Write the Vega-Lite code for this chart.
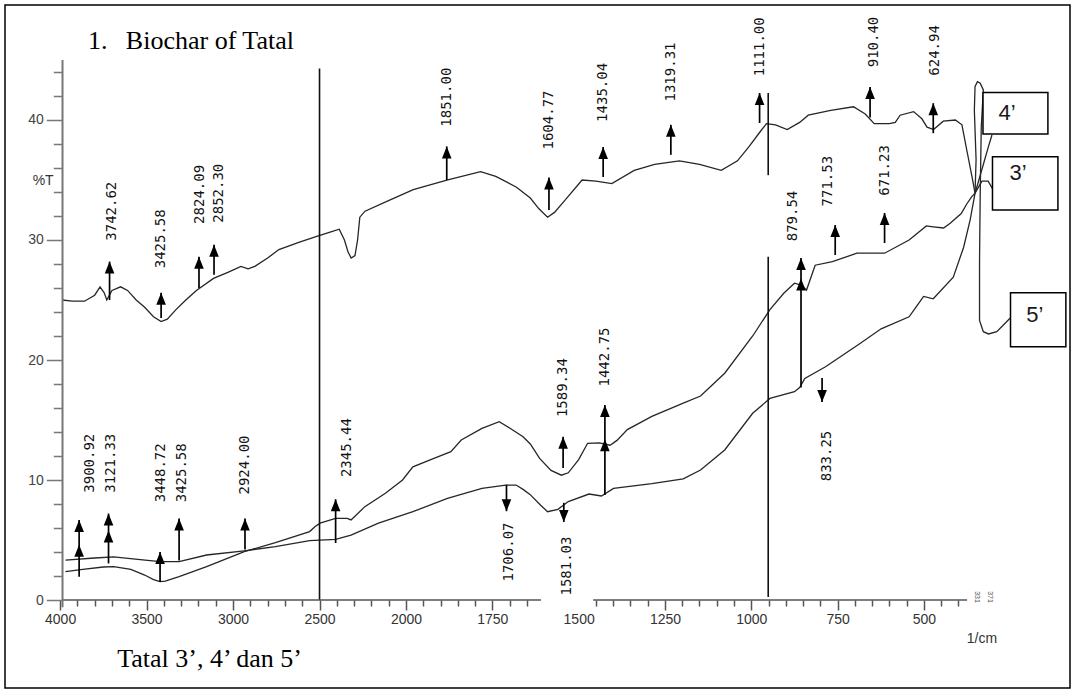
{
  "$schema": "https://vega.github.io/schema/vega-lite/v6.json",
  "width": 1065,
  "height": 683,
  "autosize": "none",
  "padding": {"left": 5, "top": 5, "right": 5, "bottom": 5},
  "background": "white",
  "config": {"view": {"stroke": "#000", "strokeWidth": 1.5}},
  "resolve": {"axis": {"x": "independent", "y": "independent"}},
  "datasets": {
    "curves": [
      {"s":"4","i":1,"w":3988,"t":25.0},{"s":"4","i":2,"w":3930,"t":24.9},{"s":"4","i":3,"w":3859,"t":24.9},{"s":"4","i":4,"w":3800,"t":25.4},{"s":"4","i":5,"w":3769,"t":26.1},{"s":"4","i":6,"w":3745,"t":25.6},{"s":"4","i":7,"w":3730,"t":25.0},{"s":"4","i":8,"w":3700,"t":25.8},{"s":"4","i":9,"w":3650,"t":26.1},{"s":"4","i":10,"w":3610,"t":25.8},{"s":"4","i":11,"w":3560,"t":25.0},{"s":"4","i":12,"w":3511,"t":24.4},{"s":"4","i":13,"w":3460,"t":23.6},{"s":"4","i":14,"w":3416,"t":23.2},{"s":"4","i":15,"w":3380,"t":23.4},{"s":"4","i":16,"w":3330,"t":24.2},{"s":"4","i":17,"w":3273,"t":25.0},{"s":"4","i":18,"w":3212,"t":25.8},{"s":"4","i":19,"w":3113,"t":26.8},{"s":"4","i":20,"w":3030,"t":27.3},{"s":"4","i":21,"w":2954,"t":27.8},{"s":"4","i":22,"w":2913,"t":27.6},{"s":"4","i":23,"w":2874,"t":27.8},{"s":"4","i":24,"w":2800,"t":28.5},{"s":"4","i":25,"w":2735,"t":29.2},{"s":"4","i":26,"w":2620,"t":29.8},{"s":"4","i":27,"w":2516,"t":30.3},{"s":"4","i":28,"w":2430,"t":30.7},{"s":"4","i":29,"w":2386,"t":30.9},{"s":"4","i":30,"w":2356,"t":30.0},{"s":"4","i":31,"w":2335,"t":29.0},{"s":"4","i":32,"w":2317,"t":28.5},{"s":"4","i":33,"w":2295,"t":28.7},{"s":"4","i":34,"w":2280,"t":30.0},{"s":"4","i":35,"w":2267,"t":31.9},{"s":"4","i":36,"w":2237,"t":32.4},{"s":"4","i":37,"w":2098,"t":33.3},{"s":"4","i":38,"w":1979,"t":34.2},{"s":"4","i":39,"w":1879,"t":35.0},{"s":"4","i":40,"w":1784,"t":35.7},{"s":"4","i":41,"w":1740,"t":35.3},{"s":"4","i":42,"w":1680,"t":34.4},{"s":"4","i":43,"w":1640,"t":33.5},{"s":"4","i":44,"w":1615,"t":32.6},{"s":"4","i":45,"w":1590,"t":31.9},{"s":"4","i":46,"w":1570,"t":32.3},{"s":"4","i":47,"w":1540,"t":33.3},{"s":"4","i":48,"w":1490,"t":35.0},{"s":"4","i":49,"w":1450,"t":34.9},{"s":"4","i":50,"w":1404,"t":34.7},{"s":"4","i":51,"w":1339,"t":35.8},{"s":"4","i":52,"w":1280,"t":36.3},{"s":"4","i":53,"w":1208,"t":36.6},{"s":"4","i":54,"w":1150,"t":36.3},{"s":"4","i":55,"w":1087,"t":35.8},{"s":"4","i":56,"w":1040,"t":36.6},{"s":"4","i":57,"w":1006,"t":37.8},{"s":"4","i":58,"w":975,"t":39.0},{"s":"4","i":59,"w":956,"t":39.7},{"s":"4","i":60,"w":930,"t":39.6},{"s":"4","i":61,"w":896,"t":39.2},{"s":"4","i":62,"w":860,"t":39.8},{"s":"4","i":63,"w":835,"t":40.4},{"s":"4","i":64,"w":770,"t":40.8},{"s":"4","i":65,"w":704,"t":41.1},{"s":"4","i":66,"w":670,"t":40.5},{"s":"4","i":67,"w":644,"t":39.7},{"s":"4","i":68,"w":600,"t":39.7},{"s":"4","i":69,"w":583,"t":39.8},{"s":"4","i":70,"w":569,"t":40.4},{"s":"4","i":71,"w":530,"t":40.7},{"s":"4","i":72,"w":506,"t":40.1},{"s":"4","i":73,"w":491,"t":39.4},{"s":"4","i":74,"w":472,"t":39.2},{"s":"4","i":75,"w":444,"t":39.9},{"s":"4","i":76,"w":409,"t":40.0},{"s":"4","i":77,"w":390,"t":39.6},{"s":"4","i":78,"w":376,"t":37.5},{"s":"4","i":79,"w":361,"t":35.3},{"s":"4","i":80,"w":352,"t":33.9},{"s":"4","i":81,"w":347,"t":34.4},{"s":"4","i":82,"w":327,"t":36.4},{"s":"4","i":83,"w":313,"t":37.8},{"s":"4","i":84,"w":303,"t":38.75},
      {"s":"3","i":1,"w":3969,"t":2.36},{"s":"3","i":2,"w":3869,"t":2.56},{"s":"3","i":3,"w":3750,"t":2.75},{"s":"3","i":4,"w":3690,"t":2.78},{"s":"3","i":5,"w":3591,"t":2.56},{"s":"3","i":6,"w":3511,"t":2.08},{"s":"3","i":7,"w":3460,"t":1.7},{"s":"3","i":8,"w":3422,"t":1.53},{"s":"3","i":9,"w":3392,"t":1.58},{"s":"3","i":10,"w":3312,"t":1.94},{"s":"3","i":11,"w":3153,"t":2.78},{"s":"3","i":12,"w":2935,"t":4.03},{"s":"3","i":13,"w":2755,"t":4.78},{"s":"3","i":14,"w":2557,"t":5.7},{"s":"3","i":15,"w":2527,"t":6.1},{"s":"3","i":16,"w":2497,"t":6.4},{"s":"3","i":17,"w":2407,"t":6.8},{"s":"3","i":18,"w":2340,"t":6.8},{"s":"3","i":19,"w":2318,"t":6.67},{"s":"3","i":20,"w":2298,"t":6.94},{"s":"3","i":21,"w":2238,"t":7.78},{"s":"3","i":22,"w":2119,"t":8.9},{"s":"3","i":23,"w":2020,"t":10.0},{"s":"3","i":24,"w":1980,"t":11.1},{"s":"3","i":25,"w":1930,"t":11.67},{"s":"3","i":26,"w":1870,"t":12.36},{"s":"3","i":27,"w":1840,"t":13.33},{"s":"3","i":28,"w":1780,"t":14.3},{"s":"3","i":29,"w":1730,"t":14.86},{"s":"3","i":30,"w":1691,"t":14.17},{"s":"3","i":31,"w":1661,"t":13.6},{"s":"3","i":32,"w":1640,"t":13.0},{"s":"3","i":33,"w":1613,"t":11.8},{"s":"3","i":34,"w":1580,"t":10.8},{"s":"3","i":35,"w":1550,"t":10.4},{"s":"3","i":36,"w":1530,"t":10.6},{"s":"3","i":37,"w":1500,"t":11.7},{"s":"3","i":38,"w":1474,"t":13.06},{"s":"3","i":39,"w":1440,"t":13.1},{"s":"3","i":40,"w":1409,"t":12.9},{"s":"3","i":41,"w":1389,"t":13.3},{"s":"3","i":42,"w":1359,"t":14.2},{"s":"3","i":43,"w":1288,"t":15.3},{"s":"3","i":44,"w":1197,"t":16.4},{"s":"3","i":45,"w":1147,"t":17.0},{"s":"3","i":46,"w":1077,"t":18.9},{"s":"3","i":47,"w":996,"t":22.0},{"s":"3","i":48,"w":946,"t":24.2},{"s":"3","i":49,"w":906,"t":25.56},{"s":"3","i":50,"w":875,"t":26.4},{"s":"3","i":51,"w":856,"t":26.25},{"s":"3","i":52,"w":840,"t":25.83},{"s":"3","i":53,"w":815,"t":27.9},{"s":"3","i":54,"w":765,"t":28.2},{"s":"3","i":55,"w":694,"t":28.9},{"s":"3","i":56,"w":614,"t":28.9},{"s":"3","i":57,"w":543,"t":30.0},{"s":"3","i":58,"w":493,"t":31.17},{"s":"3","i":59,"w":473,"t":31.1},{"s":"3","i":60,"w":443,"t":31.0},{"s":"3","i":61,"w":424,"t":31.4},{"s":"3","i":62,"w":392,"t":32.2},{"s":"3","i":63,"w":376,"t":33.0},{"s":"3","i":64,"w":362,"t":33.6},{"s":"3","i":65,"w":352,"t":33.9},{"s":"3","i":66,"w":332,"t":34.9},{"s":"3","i":67,"w":314,"t":34.9},{"s":"3","i":68,"w":300,"t":34.2},
      {"s":"5","i":1,"w":3969,"t":3.33},{"s":"5","i":2,"w":3800,"t":3.5},{"s":"5","i":3,"w":3690,"t":3.6},{"s":"5","i":4,"w":3551,"t":3.39},{"s":"5","i":5,"w":3422,"t":3.19},{"s":"5","i":6,"w":3312,"t":3.19},{"s":"5","i":7,"w":3153,"t":3.75},{"s":"5","i":8,"w":2935,"t":4.1},{"s":"5","i":9,"w":2755,"t":4.44},{"s":"5","i":10,"w":2557,"t":4.94},{"s":"5","i":11,"w":2407,"t":5.05},{"s":"5","i":12,"w":2318,"t":5.4},{"s":"5","i":13,"w":2159,"t":6.4},{"s":"5","i":14,"w":1980,"t":7.36},{"s":"5","i":15,"w":1880,"t":8.47},{"s":"5","i":16,"w":1780,"t":9.3},{"s":"5","i":17,"w":1711,"t":9.58},{"s":"5","i":18,"w":1681,"t":9.58},{"s":"5","i":19,"w":1660,"t":9.2},{"s":"5","i":20,"w":1641,"t":8.8},{"s":"5","i":21,"w":1610,"t":7.9},{"s":"5","i":22,"w":1590,"t":7.36},{"s":"5","i":23,"w":1560,"t":7.56},{"s":"5","i":24,"w":1530,"t":8.2},{"s":"5","i":25,"w":1470,"t":8.83},{"s":"5","i":26,"w":1434,"t":8.67},{"s":"5","i":27,"w":1399,"t":9.3},{"s":"5","i":28,"w":1288,"t":9.7},{"s":"5","i":29,"w":1197,"t":10.1},{"s":"5","i":30,"w":1147,"t":10.83},{"s":"5","i":31,"w":1077,"t":12.5},{"s":"5","i":32,"w":996,"t":15.56},{"s":"5","i":33,"w":946,"t":16.8},{"s":"5","i":34,"w":875,"t":17.36},{"s":"5","i":35,"w":860,"t":17.7},{"s":"5","i":36,"w":845,"t":18.47},{"s":"5","i":37,"w":785,"t":19.44},{"s":"5","i":38,"w":684,"t":21.4},{"s":"5","i":39,"w":624,"t":22.6},{"s":"5","i":40,"w":543,"t":23.6},{"s":"5","i":41,"w":523,"t":24.4},{"s":"5","i":42,"w":501,"t":25.3},{"s":"5","i":43,"w":473,"t":25.1},{"s":"5","i":44,"w":415,"t":26.9},{"s":"5","i":45,"w":385,"t":29.4},{"s":"5","i":46,"w":366,"t":31.7},{"s":"5","i":47,"w":352,"t":33.9},{"s":"5","i":48,"w":349,"t":36.7},{"s":"5","i":49,"w":354,"t":40.8},{"s":"5","i":50,"w":352,"t":42.8},{"s":"5","i":51,"w":345,"t":43.2},{"s":"5","i":52,"w":337,"t":43.06},{"s":"5","i":53,"w":328,"t":42.5},{"s":"5","i":54,"w":334,"t":39.4},{"s":"5","i":55,"w":337,"t":33.9},{"s":"5","i":56,"w":339,"t":28.3},{"s":"5","i":57,"w":339,"t":23.3},{"s":"5","i":58,"w":328,"t":22.36},{"s":"5","i":59,"w":313,"t":22.17},{"s":"5","i":60,"w":289,"t":22.36},{"s":"5","i":61,"w":250,"t":23.5}
    ],
    "vlines": [
      {"w": 2500, "t": 0, "t2": 44.3},
      {"w": 951, "t": 0.25, "t2": 28.6},
      {"w": 951, "t": 35.4, "t2": 42.25}
    ],
    "axislines": [
      {"w": 3988, "w2": 375, "t": 0}
    ],
    "gap": [
      {"w": 1609, "w2": 1458, "t": 0.5, "t2": -0.95}
    ],
    "yaxisline": [
      {"w": 3986, "t": -0.6, "t2": 45}
    ],
    "arrows": [
      {"w": 3714, "t": 25.0, "t2": 28.2},
      {"w": 3416, "t": 23.5, "t2": 25.6},
      {"w": 3197, "t": 26.0, "t2": 28.6},
      {"w": 3110, "t": 27.1, "t2": 29.6},
      {"w": 1882, "t": 35.0, "t2": 37.8},
      {"w": 1586, "t": 32.5, "t2": 35.2},
      {"w": 1429, "t": 35.25, "t2": 37.75},
      {"w": 1233, "t": 37.1, "t2": 39.6},
      {"w": 976, "t": 39.75, "t2": 42.25},
      {"w": 656, "t": 40.2, "t2": 42.75},
      {"w": 473, "t": 38.9, "t2": 41.4},
      {"w": 856, "t": 17.7, "t2": 28.5},
      {"w": 757, "t": 28.75, "t2": 31.25},
      {"w": 614, "t": 29.75, "t2": 32.25},
      {"w": 1545, "t": 11.0, "t2": 13.6},
      {"w": 1424, "t": 8.75, "t2": 16.25},
      {"w": 2407, "t": 4.75, "t2": 8.4},
      {"w": 2931, "t": 4.2, "t2": 6.8},
      {"w": 3312, "t": 3.3, "t2": 6.8},
      {"w": 3422, "t": 1.5, "t2": 4.0},
      {"w": 3720, "t": 3.05, "t2": 7.2},
      {"w": 3890, "t": 1.94, "t2": 6.67},
      {"w": 795, "t": 18.5, "t2": 16.5},
      {"w": 1543, "t": 8.1, "t2": 6.5},
      {"w": 1709, "t": 9.6, "t2": 7.4}
    ],
    "tipsUp": [
      {"w": 3714, "t": 28.2}, {"w": 3416, "t": 25.6}, {"w": 3197, "t": 28.6}, {"w": 3110, "t": 29.6},
      {"w": 1882, "t": 37.8}, {"w": 1586, "t": 35.2}, {"w": 1429, "t": 37.75}, {"w": 1233, "t": 39.6},
      {"w": 976, "t": 42.25}, {"w": 656, "t": 42.75}, {"w": 473, "t": 41.4},
      {"w": 856, "t": 28.5}, {"w": 856, "t": 26.8}, {"w": 757, "t": 31.25}, {"w": 614, "t": 32.25},
      {"w": 1545, "t": 13.6}, {"w": 1424, "t": 16.25}, {"w": 1424, "t": 13.4},
      {"w": 2407, "t": 8.4}, {"w": 2931, "t": 6.8}, {"w": 3312, "t": 6.8}, {"w": 3422, "t": 4.0},
      {"w": 3720, "t": 7.2}, {"w": 3720, "t": 5.8}, {"w": 3890, "t": 6.67}, {"w": 3890, "t": 4.6}
    ],
    "tipsDown": [
      {"w": 795, "t": 16.5}, {"w": 1543, "t": 6.5}, {"w": 1709, "t": 7.4}
    ],
    "peaks": [
      {"w": 3699, "t": 32.4, "label": "3742.62"},
      {"w": 3415, "t": 30.1, "label": "3425.58"},
      {"w": 3192, "t": 33.8, "label": "2824.09"},
      {"w": 3083, "t": 33.9, "label": "2852.30"},
      {"w": 1882, "t": 41.9, "label": "1851.00"},
      {"w": 1586, "t": 40.0, "label": "1604.77"},
      {"w": 1430, "t": 42.3, "label": "1435.04"},
      {"w": 1233, "t": 44.0, "label": "1319.31"},
      {"w": 974, "t": 46.1, "label": "1111.00"},
      {"w": 646, "t": 46.5, "label": "910.40"},
      {"w": 467, "t": 45.8, "label": "624.94"},
      {"w": 880, "t": 32.0, "label": "879.54"},
      {"w": 777, "t": 34.9, "label": "771.53"},
      {"w": 614, "t": 35.8, "label": "671.23"},
      {"w": 780, "t": 12.0, "label": "833.25"},
      {"w": 1545, "t": 17.7, "label": "1589.34"},
      {"w": 1424, "t": 20.25, "label": "1442.75"},
      {"w": 1535, "t": 2.83, "label": "1581.03"},
      {"w": 1702, "t": 4.0, "label": "1706.07"},
      {"w": 2341, "t": 12.7, "label": "2345.44"},
      {"w": 2931, "t": 11.25, "label": "2924.00"},
      {"w": 3297, "t": 10.6, "label": "3425.58"},
      {"w": 3416, "t": 10.6, "label": "3448.72"},
      {"w": 3706, "t": 11.4, "label": "3121.33"},
      {"w": 3827, "t": 11.4, "label": "3900.92"}
    ],
    "boxes": [
      {"w": 329, "w2": 141, "t": 42.3, "t2": 38.83},
      {"w": 301.5, "w2": 112, "t": 36.94, "t2": 32.5},
      {"w": 249.3, "w2": 89, "t": 25.6, "t2": 21.1}
    ],
    "boxlabels": [
      {"w": 284, "t": 40.56, "label": "4’"},
      {"w": 252, "t": 35.58, "label": "3’"},
      {"w": 204, "t": 23.75, "label": "5’"}
    ],
    "serif": [
      {"w": 3838, "t": 45.9, "label": "1."},
      {"w": 3620, "t": 45.9, "label": "Biochar of Tatal"},
      {"w": 3670, "t": -5.56, "label": "Tatal 3’, 4’ dan 5’"}
    ],
    "units": [
      {"w": 4098, "t": 34.9, "label": "%T", "a": "right"},
      {"w": 332, "t": -3.25, "label": "1/cm", "a": "center"}
    ],
    "tiny": [
      {"w": 347, "t": 0.25, "label": "331"},
      {"w": 308, "t": 0.25, "label": "371"}
    ]
  },
  "layer": [
    {
      "data": {"name": "curves"},
      "mark": {"type": "line", "color": "#262626", "strokeWidth": 1.3},
      "encoding": {
        "x": {
          "field": "w", "type": "quantitative",
          "scale": {"domain": [4318.6, 2000, 77], "range": [0, 401, 1065], "nice": false, "zero": false},
          "axis": {
            "orient": "bottom", "offset": -88, "domain": false, "grid": false, "title": null, "labels": false,
            "values": [3900,3800,3700,3600,3400,3300,3200,3100,2900,2800,2700,2600,2400,2300,2200,2100,1950,1900,1850,1800,1700,1650,1450,1400,1350,1300,1200,1150,1100,1050,950,900,850,800,700,650,600,550,450,400],
            "tickSize": 6, "tickColor": "#555", "tickWidth": 1.5
          }
        },
        "y": {
          "field": "t", "type": "quantitative",
          "scale": {"domain": [-7.333, 49.583], "nice": false, "zero": false},
          "axis": {
            "orient": "left", "offset": -57.3, "domain": false, "grid": false, "title": null, "labels": false,
            "values": [2,4,6,8,12,14,16,18,22,24,26,28,32,34,36,38,42,44],
            "tickSize": 9, "tickColor": "#777", "tickWidth": 1.5
          }
        },
        "detail": {"field": "s"},
        "order": {"field": "i", "type": "quantitative"}
      }
    },
    {
      "data": {"name": "vlines"},
      "mark": {"type": "rule", "color": "#111", "strokeWidth": 1.6},
      "encoding": {
        "x": {
          "field": "w", "type": "quantitative",
          "axis": {
            "orient": "bottom", "offset": -88, "domain": false, "grid": false, "title": null,
            "values": [4000,3500,3000,2500,2000,1750,1500,1250,1000,750,500],
            "format": "d",
            "tickSize": 10, "tickColor": "#555", "tickWidth": 1.5,
            "labelFont": "Liberation Sans", "labelFontSize": 14, "labelColor": "#333", "labelPadding": 2,
            "labelOverlap": false, "labelFlush": false, "labelBound": false
          }
        },
        "y": {
          "field": "t", "type": "quantitative",
          "axis": {
            "orient": "left", "offset": -57.3, "domain": false, "grid": false, "title": null,
            "values": [0,10,20,30,40],
            "tickSize": 16, "tickColor": "#777", "tickWidth": 1.5,
            "labelFont": "Liberation Sans", "labelFontSize": 14, "labelColor": "#444", "labelPadding": 3,
            "labelOverlap": false, "labelBound": false
          }
        },
        "y2": {"field": "t2"}
      }
    },
    {
      "data": {"name": "axislines"},
      "mark": {"type": "rule", "color": "#555", "strokeWidth": 1.5},
      "encoding": {
        "x": {"field": "w", "type": "quantitative", "axis": null},
        "x2": {"field": "w2"},
        "y": {"field": "t", "type": "quantitative", "axis": null}
      }
    },
    {
      "data": {"name": "gap"},
      "mark": {"type": "rect", "fill": "white"},
      "encoding": {
        "x": {"field": "w", "type": "quantitative", "axis": null},
        "x2": {"field": "w2"},
        "y": {"field": "t", "type": "quantitative", "axis": null},
        "y2": {"field": "t2"}
      }
    },
    {
      "data": {"name": "yaxisline"},
      "mark": {"type": "rule", "color": "#777", "strokeWidth": 2},
      "encoding": {
        "x": {"field": "w", "type": "quantitative", "axis": null},
        "y": {"field": "t", "type": "quantitative", "axis": null},
        "y2": {"field": "t2"}
      }
    },
    {
      "data": {"name": "arrows"},
      "mark": {"type": "rule", "color": "#000", "strokeWidth": 1.7},
      "encoding": {
        "x": {"field": "w", "type": "quantitative", "axis": null},
        "y": {"field": "t", "type": "quantitative", "axis": null},
        "y2": {"field": "t2"}
      }
    },
    {
      "data": {"name": "tipsUp"},
      "mark": {"type": "point", "shape": "M0,-1L0.8,1L-0.8,1Z", "filled": true, "color": "#000", "size": 144, "opacity": 1, "yOffset": 6},
      "encoding": {
        "x": {"field": "w", "type": "quantitative", "axis": null},
        "y": {"field": "t", "type": "quantitative", "axis": null}
      }
    },
    {
      "data": {"name": "tipsDown"},
      "mark": {"type": "point", "shape": "M0,1L0.8,-1L-0.8,-1Z", "filled": true, "color": "#000", "size": 144, "opacity": 1, "yOffset": -6},
      "encoding": {
        "x": {"field": "w", "type": "quantitative", "axis": null},
        "y": {"field": "t", "type": "quantitative", "axis": null}
      }
    },
    {
      "data": {"name": "peaks"},
      "mark": {"type": "text", "angle": 270, "align": "center", "baseline": "middle", "font": "DejaVu Sans Mono", "fontSize": 14, "color": "#111"},
      "encoding": {
        "x": {"field": "w", "type": "quantitative", "axis": null},
        "y": {"field": "t", "type": "quantitative", "axis": null},
        "text": {"field": "label"}
      }
    },
    {
      "data": {"name": "boxes"},
      "mark": {"type": "rect", "fill": "white", "stroke": "#000", "strokeWidth": 1.5},
      "encoding": {
        "x": {"field": "w", "type": "quantitative", "axis": null},
        "x2": {"field": "w2"},
        "y": {"field": "t", "type": "quantitative", "axis": null},
        "y2": {"field": "t2"}
      }
    },
    {
      "data": {"name": "boxlabels"},
      "mark": {"type": "text", "align": "left", "baseline": "middle", "font": "Liberation Sans", "fontSize": 22, "color": "#1a1a1a"},
      "encoding": {
        "x": {"field": "w", "type": "quantitative", "axis": null},
        "y": {"field": "t", "type": "quantitative", "axis": null},
        "text": {"field": "label"}
      }
    },
    {
      "data": {"name": "serif"},
      "mark": {"type": "text", "align": "left", "baseline": "alphabetic", "font": "Liberation Serif", "fontSize": 26, "color": "#000"},
      "encoding": {
        "x": {"field": "w", "type": "quantitative", "axis": null},
        "y": {"field": "t", "type": "quantitative", "axis": null},
        "text": {"field": "label"}
      }
    },
    {
      "data": {"name": "units"},
      "mark": {"type": "text", "baseline": "middle", "font": "Liberation Sans", "fontSize": 14, "color": "#333"},
      "encoding": {
        "x": {"field": "w", "type": "quantitative", "axis": null},
        "y": {"field": "t", "type": "quantitative", "axis": null},
        "text": {"field": "label"},
        "align": {"field": "a", "type": "nominal", "scale": null}
      }
    },
    {
      "data": {"name": "tiny"},
      "mark": {"type": "text", "angle": 90, "align": "center", "baseline": "middle", "font": "Liberation Sans", "fontSize": 7, "color": "#555"},
      "encoding": {
        "x": {"field": "w", "type": "quantitative", "axis": null},
        "y": {"field": "t", "type": "quantitative", "axis": null},
        "text": {"field": "label"}
      }
    }
  ]
}
